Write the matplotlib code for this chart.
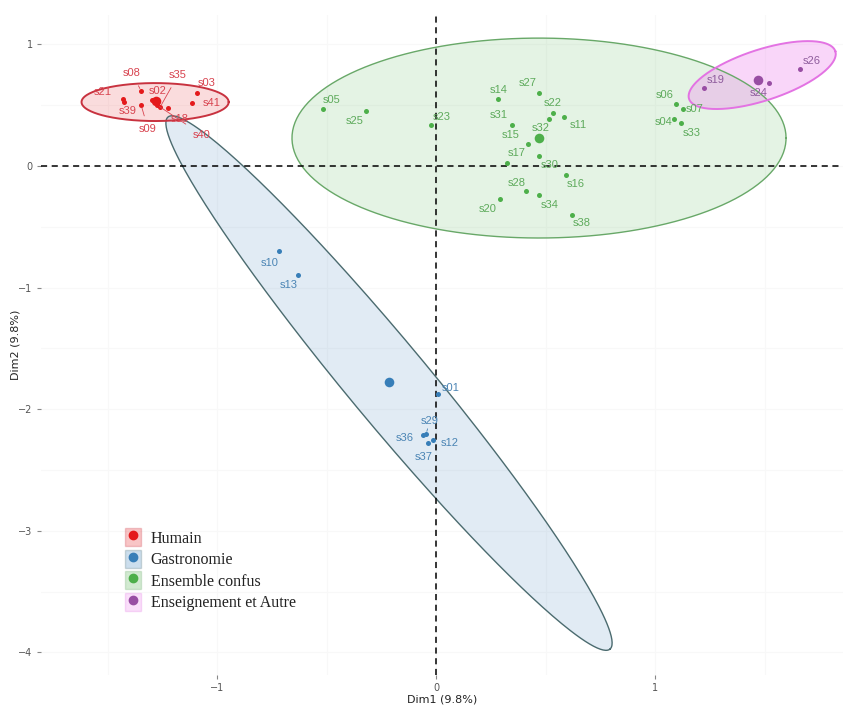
import numpy as np
import matplotlib
matplotlib.use("Agg")
import matplotlib.pyplot as plt
from matplotlib.lines import Line2D
from matplotlib.patches import Rectangle

# ---- individuals (Dim1, Dim2) ----
humain_names = ['s08', 's21', 's39', 's09', 's02', 's35', 's03', 's41', 's18', 's40']
humain_x = [-1.347, -1.429, -1.425, -1.347, -1.297, -1.260, -1.091, -1.114, -1.224, -1.274]
humain_y = [0.617, 0.551, 0.526, 0.502, 0.543, 0.485, 0.600, 0.518, 0.477, 0.502]

gastro_names = ['s10', 's13', 's01', 's29', 's36', 's12', 's37']
gastro_x = [-0.716, -0.629, 0.011, -0.046, -0.061, -0.015, -0.035]
gastro_y = [-0.697, -0.896, -1.877, -2.204, -2.212, -2.253, -2.275]

confus_names = ['s14', 's27', 's22', 's32', 's11', 's31', 's15', 's17', 's30', 's16', 's28',
                's34', 's20', 's38', 's05', 's25', 's23', 's06', 's07', 's04', 's33']
confus_x = [0.284, 0.470, 0.533, 0.517, 0.586, 0.346, 0.421, 0.323, 0.470, 0.594, 0.411,
            0.470, 0.292, 0.620, -0.517, -0.320, -0.023, 1.096, 1.126, 1.088, 1.119]
confus_y = [0.549, 0.598, 0.438, 0.387, 0.405, 0.337, 0.178, 0.027, 0.085, -0.074, -0.206,
            -0.236, -0.274, -0.403, 0.469, 0.452, 0.337, 0.510, 0.466, 0.387, 0.356]

ens_names = ['s19', 's24', 's26']
ens_x = [1.224, 1.522, 1.662]
ens_y = [0.644, 0.685, 0.795]

# concentration ellipses: centre, two conjugate semi-axes (data units)
ell_centre = [(-1.283, 0.526), (-0.215, -1.785), (0.470, 0.230), (1.489, 0.748)]
ell_u = [(0.336, 0.0), (1.009, -2.188), (1.128, 0.0), (0.334, 0.196)]
ell_v = [(0.0, 0.156), (0.141, 0.211), (0.0, 0.822), (0.036, -0.199)]

group_labels = ['Humain', 'Gastronomie', 'Ensemble confus', 'Enseignement et Autre']

# ---- styling ----
pt_col = ['#E41A1C', '#377EB8', '#4DAF4A', '#984EA3']
txt_col = ['#D8434F', '#4A84B4', '#5DAA5B', '#8E5C9C']
edge_col = ['#C8323F', '#4B6B6F', '#68A868', '#E373E3']
fill_col = ['#E41A1C', '#377EB8', '#4DAF4A', '#EE82EE']
fill_alpha = [0.15, 0.15, 0.15, 0.32]

# label offsets in pixels (right, down)
offs = {
    's08': (-9, -18), 's21': (-20, -7), 's39': (4, 9), 's09': (7, 24), 's02': (6, -9),
    's35': (18, -32), 's03': (10, -10), 's41': (20, 0), 's18': (12, 11), 's40': (45, 30),
    's10': (-10, 12), 's13': (-10, 10), 's01': (12, -6), 's29': (4, -13), 's36': (-18, 3),
    's12': (17, 3), 's37': (-5, 14),
    's14': (0, -9), 's27': (-11, -10), 's22': (0, -10), 's32': (-9, 9), 's11': (14, 8),
    's31': (-13, -10), 's15': (-18, -9), 's17': (10, -10), 's30': (11, 9), 's16': (10, 9),
    's28': (-9, -8), 's34': (11, 10), 's20': (-12, 10), 's38': (10, 8), 's05': (9, -9),
    's25': (-11, 10), 's23': (11, -8), 's06': (-11, -9), 's07': (12, 0), 's04': (-11, 3),
    's33': (11, 10), 's19': (12, -8), 's24': (-11, 10), 's26': (12, -8),
}
with_segment = ['s08', 's09', 's35', 's40', 's15', 's29']

groups = [(humain_names, humain_x, humain_y),
          (gastro_names, gastro_x, gastro_y),
          (confus_names, confus_x, confus_y),
          (ens_names, ens_x, ens_y)]

fig = plt.figure(figsize=(8.43, 7.11), dpi=100)
ax = fig.add_axes([41 / 843, 36 / 711, 802 / 843, 660 / 711])
ax.set_xlim(-1.804, 1.858)
ax.set_ylim(-4.186, 1.242)

# very faint background grid
ax.set_xticks(np.arange(-1.5, 2.0, 0.5), minor=True)
ax.set_yticks(np.arange(-4.0, 1.5, 0.5), minor=True)
ax.grid(True, which='both', color='#f8f8f8', lw=0.9, zorder=0)
ax.set_axisbelow(True)
for s in ax.spines.values():
    s.set_visible(False)

t = np.linspace(0, 2 * np.pi, 300)
draw_order = [1, 2, 3, 0]
for g in draw_order:
    cx, cy = ell_centre[g]
    ex = cx + ell_u[g][0] * np.cos(t) + ell_v[g][0] * np.sin(t)
    ey = cy + ell_u[g][1] * np.cos(t) + ell_v[g][1] * np.sin(t)
    ax.fill(ex, ey, color=fill_col[g], alpha=fill_alpha[g], lw=0, zorder=1)
    ax.plot(ex, ey, color=edge_col[g], lw=1.4 if g in (0, 3) else 1.0, zorder=2)

ax.axhline(0, color='black', ls=(0, (4, 3)), lw=1.1, zorder=3)
ax.axvline(0, color='black', ls=(0, (4, 3)), lw=1.1, zorder=3)

for g, (names, xs, ys) in enumerate(groups):
    ax.scatter(xs, ys, s=13, color=pt_col[g], zorder=4, lw=0)
    ax.scatter([np.mean(xs)], [np.mean(ys)], s=48, color=pt_col[g], zorder=4, lw=0)
    for n, x, y in zip(names, xs, ys):
        dx, dy = offs[n]
        ap = None
        if n in with_segment:
            ap = dict(arrowstyle='-', color=txt_col[g], lw=0.6, shrinkA=4, shrinkB=2)
        ax.annotate(n, (x, y), xytext=(dx, -dy), textcoords='offset pixels',
                    ha='center', va='center', fontsize=8, color=txt_col[g],
                    family='Liberation Sans', arrowprops=ap, zorder=5)

ax.set_xticks([-1, 0, 1])
ax.set_yticks([-4, -3, -2, -1, 0, 1])
ax.tick_params(which='major', length=3, color='#888888', labelsize=7, labelcolor='#555555',
               pad=3)
ax.tick_params(which='minor', length=0)
ax.set_xlabel('Dim1 (9.8%)', fontsize=8, color='#222222', labelpad=1)
ax.set_ylabel('Dim2 (9.8%)', fontsize=8, color='#222222')
ax.yaxis.set_label_coords(-0.025, 0.5)

handles = []
for g in range(4):
    box = Rectangle((0, 0), 1, 1, facecolor=fill_col[g], alpha=0.25, edgecolor=edge_col[g], lw=1)
    dot = Line2D([], [], marker='o', ls='', color=pt_col[g], markersize=6)
    handles.append((box, dot))
leg = ax.legend(handles, group_labels, loc='upper left', bbox_to_anchor=(0.097, 0.232),
                frameon=False, handlelength=1.0, handleheight=1.35, labelspacing=0.2,
                handletextpad=0.6, borderaxespad=0,
                prop={'family': 'Liberation Serif', 'size': 11.5})
for tx in leg.get_texts():
    tx.set_color('#222222')

fig.savefig('out.png', dpi=100)
